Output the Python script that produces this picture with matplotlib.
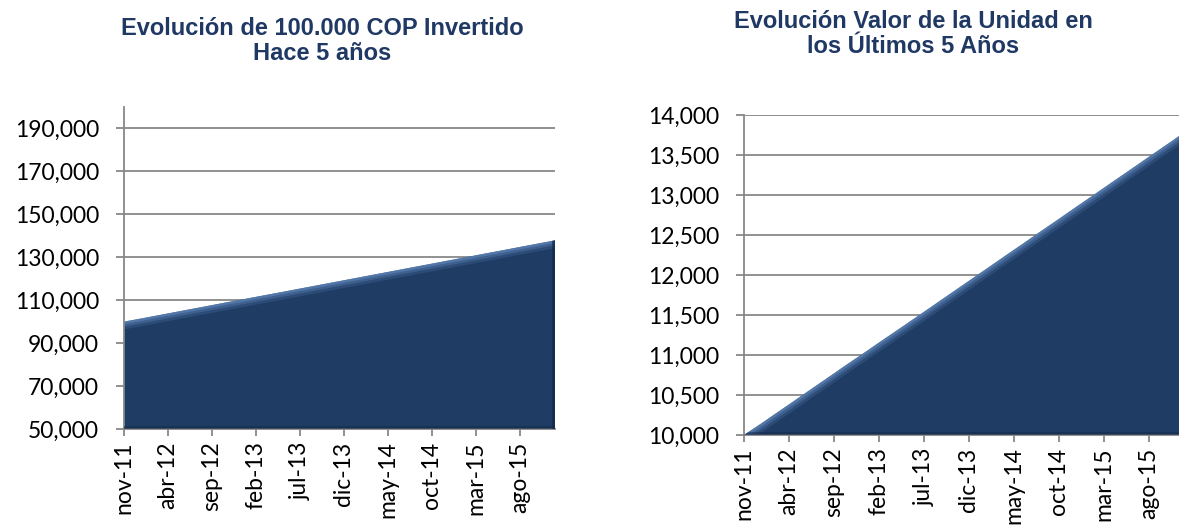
import matplotlib.pyplot as plt
from matplotlib.patches import Polygon
import numpy as np

# meses de nov-11 a dic-15 (indice 0..49)
tick_pos = [0, 5, 10, 15, 20, 25, 30, 35, 40, 45]
tick_labels = ["nov-11", "abr-12", "sep-12", "feb-13", "jul-13",
               "dic-13", "may-14", "oct-14", "mar-15", "ago-15"]

# evolucion de 100.000 COP invertidos
inversion = [100000, 100750, 101500, 102280, 103050, 103820, 104600, 105380,
             106150, 106920, 107700, 108480, 109250, 110000, 110780, 111550,
             112320, 113080, 113850, 114620, 115400, 116170, 116950, 117720,
             118500, 119270, 120050, 120820, 121600, 122380, 123150, 123920,
             124700, 125480, 126250, 127020, 127800, 128580, 129350, 130120,
             130900, 131680, 132450, 133220, 134000, 134780, 135550, 136320,
             137100, 137880]

# valor de la unidad
unidad = [10000, 10075, 10150, 10228, 10305, 10382, 10460, 10538, 10615,
          10692, 10770, 10848, 10925, 11000, 11078, 11155, 11232, 11308,
          11385, 11462, 11540, 11617, 11695, 11772, 11850, 11927, 12005,
          12082, 12160, 12238, 12315, 12392, 12470, 12548, 12625, 12702,
          12780, 12858, 12935, 13012, 13090, 13168, 13245, 13322, 13400,
          13478, 13555, 13632, 13710, 13788]

navy = "#1f3c64"
bevel = "#6a92c8"
grid_c = "#888888"
title_c = "#1f3864"

fig = plt.figure(figsize=(11.79, 5.29), dpi=100)


def area_chart(ax, y, ymin, ymax, step, title, tx, ty):
    x = np.arange(len(y))
    ax.set_xlim(0, len(y) - 1)
    ax.set_ylim(ymin, ymax)
    ax.yaxis.set_major_formatter(plt.FuncFormatter(lambda v, p: f"{int(v):,}"))
    ax.grid(axis="y", color=grid_c, linewidth=1.3, zorder=0)
    ax.set_axisbelow(True)
    for s in ["top", "right"]:
        ax.spines[s].set_visible(False)
    for s in ["left", "bottom"]:
        ax.spines[s].set_color(grid_c)
        ax.spines[s].set_linewidth(1.3)
    ax.tick_params(axis="y", length=6, width=1.3, color=grid_c, pad=12,
                   labelsize=16.5)
    ax.tick_params(axis="x", length=5, width=1.3, color=grid_c, pad=4,
                   labelsize=16.5)
    ax.set_xticks(tick_pos)
    ax.set_xticklabels(tick_labels, rotation=90)
    for lab in ax.get_xticklabels() + ax.get_yticklabels():
        lab.set_family("Lato")

    pts = [(0, ymin)] + list(zip(x, y)) + [(x[-1], ymin)]
    poly = Polygon(pts, closed=True, facecolor=navy, edgecolor="none", zorder=2)
    ax.add_patch(poly)
    # borde biselado claro arriba
    for lw, a in [(11, 0.18), (7, 0.3), (3.5, 0.45)]:
        top, = ax.plot(x, y, color=bevel, linewidth=lw, alpha=a, zorder=3,
                       solid_capstyle="butt")
        top.set_clip_path(poly)
    side, = ax.plot([x[-1], x[-1]], [ymin, y[-1]], color="#132a4a",
                    linewidth=4, alpha=0.8, zorder=3)
    side.set_clip_path(poly)
    low, = ax.plot([0, x[-1]], [ymin, ymin], color="#132a4a",
                   linewidth=4, alpha=0.6, zorder=3)
    low.set_clip_path(poly)

    fig.text(tx, ty, title, ha="center", va="center", fontsize=17,
             fontweight="bold", color=title_c, family="Liberation Sans",
             linespacing=1.15)


ax1 = fig.add_axes([124 / 1179, 100 / 529, 431 / 1179, 322 / 529])
area_chart(ax1, inversion, 50000, 200000, 20000,
           "Evolución de 100.000 COP Invertido\nHace 5 años",
           322 / 1179, 1 - 41 / 529)
ax1.set_yticks(np.arange(50000, 190001, 20000))

ax2 = fig.add_axes([744 / 1179, 94 / 529, 441 / 1179, 320 / 529])
area_chart(ax2, unidad, 10000, 14000, 500,
           "Evolución Valor de la Unidad en\nlos Últimos 5 Años",
           913 / 1179, 1 - 34 / 529)
ax2.set_yticks(np.arange(10000, 14001, 500))

fig.savefig("out.png", dpi=100)
